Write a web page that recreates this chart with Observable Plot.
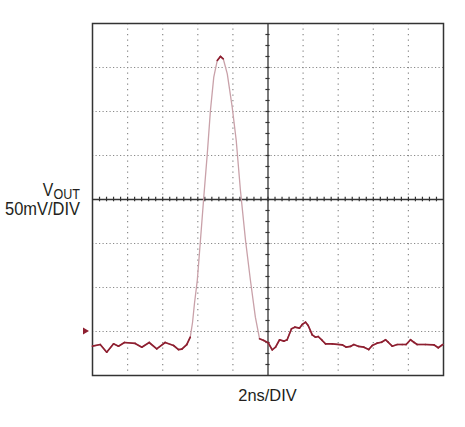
<!DOCTYPE html>
<html>
<head>
<meta charset="utf-8">
<script src="https://cdn.jsdelivr.net/npm/d3@7"></script>
<script src="https://cdn.jsdelivr.net/npm/@observablehq/plot@0.6"></script>
<style>
  body { margin: 0; background: #fff; }
  #chart svg { display: block; }
</style>
</head>
<body>
<div id="chart"></div>
<script>
// time in ns (2 ns/div, 10 divisions), output voltage in mV (50 mV/div, 8 divisions)
const timeNs = [0,0.44,0.81,1.20,1.48,1.82,2.43,2.81,3.23,3.66,
  4.14,4.62,4.90,5.09,5.37,5.57,5.70,5.81,5.97,6.15,
  6.34,6.54,6.72,6.91,7.11,7.29,7.45,7.68,7.96,8.19,
  8.43,8.72,9.00,9.28,9.52,9.76,10.01,10.24,10.43,10.66,
  10.90,11.09,11.34,11.53,11.79,11.95,12.14,12.29,12.52,12.71,
  12.86,13.09,13.28,13.66,14.23,14.46,14.70,14.89,15.17,15.46,
  15.74,15.94,16.22,16.47,16.70,16.85,17.08,17.36,17.65,17.87,
  18.12,18.31,18.50,18.97,19.45,19.70,19.96];
const voutMv = [-166.7,-164.8,-173.5,-164.0,-166.7,-162.5,-163.6,-167.8,-162.5,-169.7,
  -162.5,-165.9,-170.5,-170.1,-164.8,-156.5,-139.8,-118.2,-92,-46.6,
  2.6,51.9,101.1,139,158,162.5,159.9,142.8,104.9,67,
  10.2,-46.6,-92,-133.7,-158.3,-160.2,-162.8,-170.8,-167.8,-159.4,
  -161,-159.4,-146.9,-145.1,-146.2,-142,-139.4,-143.2,-153.8,-156.5,
  -155.7,-160.2,-164,-164,-165.1,-167.8,-167,-164.8,-167,-167.8,
  -170.5,-165.9,-163.3,-162.2,-159.4,-162.2,-166.7,-164.8,-164.8,-164.8,
  -159.4,-162.2,-164.8,-164.8,-165.1,-168.5,-164.8];
const xDomain = [0, 20];
const yDomain = [-200, 200];
const xGrid = [2, 4, 6, 8, 12, 14, 16, 18];
const yGrid = [-150, -100, -50, 50, 100, 150];
const xCenter = 10;
const yCenter = 0;
const groundLevel = -150;
const xLabel = "2ns/DIV";
const yLabelMain = "V";
const yLabelSub = "OUT";
const yLabelScale = "50mV/DIV";

const trace = timeNs.map((t, i) => ({t, v: voutMv[i]}));
const segs = trace.slice(1).map((d, i) => ({t1: trace[i].t, v1: trace[i].v, t2: d.t, v2: d.v}));
const slowSegs = segs.filter(s => Math.abs((s.v2 - s.v1) / (s.t2 - s.t1)) < 60);

const xMinor = d3.range(xDomain[0], xDomain[1] + 1e-9, 0.4).filter(t => t > 0.01 && t < 19.99);
const yMinor = d3.range(yDomain[0], yDomain[1] + 1e-9, 12.5).filter(v => v > -199 && v < 199);

const plot = Plot.plot({
  width: 465,
  height: 427,
  marginLeft: 92,
  marginTop: 23,
  marginRight: 22,
  marginBottom: 52,
  x: {domain: xDomain, axis: null},
  y: {domain: yDomain, axis: null},
  marks: [
    Plot.ruleX(xGrid, {stroke: "#8a8a8a", strokeWidth: 1.2, strokeDasharray: "1.2,4.3"}),
    Plot.ruleY(yGrid, {stroke: "#8a8a8a", strokeWidth: 1.2, strokeDasharray: "1.2,2.3"}),
    Plot.ruleX([xCenter], {stroke: "#333", strokeWidth: 1.3}),
    Plot.ruleY([yCenter], {stroke: "#333", strokeWidth: 1.3}),
    Plot.ruleX(xMinor, {y1: -2.6, y2: 2.6, stroke: "#333", strokeWidth: 1.2}),
    Plot.ruleY(yMinor, {x1: xCenter - 0.12, x2: xCenter + 0.12, stroke: "#333", strokeWidth: 1.2}),
    Plot.frame({stroke: "#333", strokeWidth: 1.5}),
    Plot.line(trace, {x: "t", y: "v", stroke: "#c9a1a9", strokeWidth: 1.3}),
    Plot.link(slowSegs, {x1: "t1", y1: "v1", x2: "t2", y2: "v2", stroke: "#8e1f30", strokeWidth: 1.7, strokeLinecap: "round"})
  ]
});
document.getElementById("chart").appendChild(plot);

const svg = d3.select(plot);
const xs = plot.scale("x"), ys = plot.scale("y");
const font = "'Liberation Sans', Arial, sans-serif";
const ink = "#231f20";
const gy = ys.apply(groundLevel);
const x0 = xs.apply(xDomain[0]);
svg.append("path")
  .attr("d", `M${x0 - 9},${gy - 3.5}L${x0 - 3},${gy}L${x0 - 9},${gy + 3.5}Z`)
  .attr("fill", "#8e1f30");

// y-axis label block (one text element, three positioned runs)
const ylab = svg.append("text")
  .attr("text-anchor", "start")
  .attr("font-family", font).attr("fill", ink).attr("font-size", 18.5);
function run(x, y, size, len, txt) {
  ylab.append("tspan")
    .attr("x", x).attr("y", y).attr("font-size", size)
    .attr("textLength", len).attr("lengthAdjust", "spacingAndGlyphs")
    .text(txt);
}
run(42.7, 196, 18.5, 10.5, yLabelMain);
run(53.5, 199.3, 15, 26.5, yLabelSub);
run(5, 215, 19, 75, yLabelScale);

svg.append("text")
  .attr("text-anchor", "middle")
  .attr("x", xs.apply(xCenter)).attr("y", 401)
  .attr("font-family", font).attr("font-size", 17).attr("fill", ink)
  .attr("textLength", 58.4).attr("lengthAdjust", "spacingAndGlyphs")
  .text(xLabel);
</script>
</body>
</html>
